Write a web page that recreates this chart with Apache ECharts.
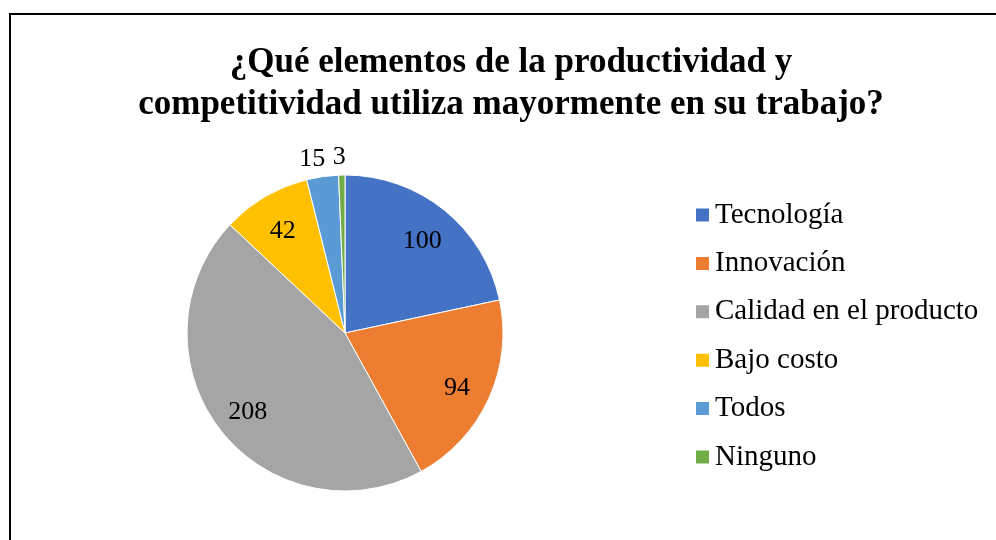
<!DOCTYPE html>
<html>
<head>
<meta charset="utf-8">
<script src="https://cdn.jsdelivr.net/npm/echarts@6/dist/echarts.min.js"></script>
<style>
    html, body { margin: 0; padding: 0; background: #fff; }
    #chart { width: 996px; height: 540px; }
</style>
</head>
<body>
<div id="chart"></div>
<script>
var categories = ['Tecnología', 'Innovación', 'Calidad en el producto', 'Bajo costo', 'Todos', 'Ninguno'];
var values = [100, 94, 208, 42, 15, 3];
var colors = ['#4472C4', '#ED7D31', '#A5A5A5', '#FFC000', '#5B9BD5', '#70AD47'];
// the two small slices get their number outside the pie
var outsideLabel = [false, false, false, false, true, true];

var myChart = echarts.init(document.getElementById('chart'));

var sliceData = categories.map(function (name, i) {
    return { name: name, value: values[i] };
});
var innerLabelData = categories.map(function (name, i) {
    return { name: name, value: values[i], label: { show: !outsideLabel[i] } };
});
var outerLabelData = categories.map(function (name, i) {
    return { name: name, value: values[i], label: { show: outsideLabel[i] } };
});
var outerOffset = { 'Todos': [-7, 5], 'Ninguno': [-2, 5] };
outerLabelData.forEach(function (d) {
    if (outerOffset[d.name]) d.label.offset = outerOffset[d.name];
});

var labelStyle = {
    position: 'inside',
    formatter: '{c}',
    fontFamily: 'Liberation Serif',
    fontSize: 26,
    color: '#000'
};

var option = {
    backgroundColor: '#fff',
    color: colors,
    animation: false,
    title: {
        text: '¿Qué elementos de la productividad y\ncompetitividad utiliza mayormente en su trabajo?',
        left: 506,
        top: 37,
        textAlign: 'center',
        textStyle: {
            fontFamily: 'Liberation Serif',
            fontWeight: 'bold',
            fontSize: 35,
            lineHeight: 42,
            color: '#000'
        }
    },
    legend: {
        orient: 'vertical',
        left: 689,
        top: 195,
        icon: 'rect',
        itemWidth: 15,
        itemHeight: 15,
        itemGap: 18.4,
        data: categories,
        selectedMode: false,
        textStyle: {
            fontFamily: 'Liberation Serif',
            fontSize: 29,
            lineHeight: 30,
            color: '#000'
        }
    },
    graphic: [
        {
            type: 'rect',
            shape: { x: 10, y: 14, width: 1000, height: 600 },
            style: { fill: 'none', stroke: '#000', lineWidth: 2 },
            silent: true
        }
    ],
    series: [
        {
            name: 'elementos',
            type: 'pie',
            center: [345, 333],
            radius: 158,
            startAngle: 90,
            clockwise: true,
            label: { show: false },
            labelLine: { show: false },
            itemStyle: { borderColor: '#fff', borderWidth: 1 },
            data: sliceData
        },
        {
            name: 'etiquetas',
            type: 'pie',
            center: [345, 333],
            radius: [82, 158],
            startAngle: 90,
            silent: true,
            itemStyle: { color: 'rgba(0,0,0,0)' },
            label: Object.assign({}, labelStyle, { offset: [0, 4] }),
            labelLine: { show: false },
            data: innerLabelData
        },
        {
            name: 'etiquetas fuera',
            type: 'pie',
            center: [345, 333],
            radius: [170, 186],
            startAngle: 90,
            silent: true,
            itemStyle: { color: 'rgba(0,0,0,0)' },
            label: labelStyle,
            labelLine: { show: false },
            data: outerLabelData
        }
    ]
};
myChart.setOption(option);
</script>
</body>
</html>
